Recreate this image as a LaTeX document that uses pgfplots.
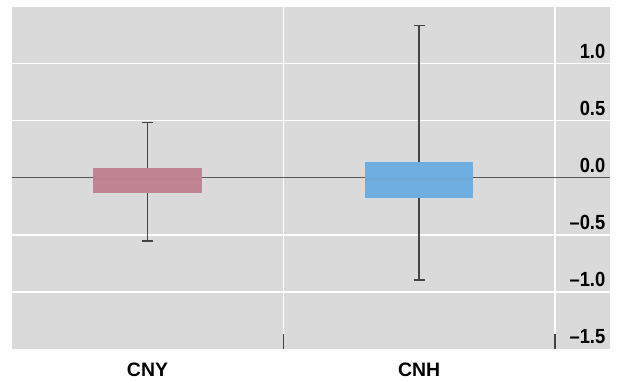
\documentclass[border=0pt]{standalone}
\usepackage{fontspec}
\setmainfont{Liberation Sans}
\usepackage{graphicx}
\usepackage{pgfplots}
\pgfplotsset{compat=1.18}
\usepgfplotslibrary{statistics}
\definecolor{bggray}{RGB}{218,218,218}
\definecolor{cnycol}{RGB}{193,129,144}
\definecolor{cnhcol}{RGB}{106,173,225}
\definecolor{dk}{RGB}{68,68,68}
\newcommand{\yl}[1]{\scalebox{0.97}[1.08]{#1}}
\begin{document}
\begin{tikzpicture}
\path[use as bounding box] (-11.7bp,-33.7bp) rectangle (605.3bp,349.3bp);
\begin{axis}[
  at={(0,0)}, anchor=south west,
  scale only axis, width=598.3bp, height=342.9bp,
  xmin=-0.5, xmax=1.703, ymin=-1.5, ymax=1.5,
  axis background/.style={fill=bggray},
  axis line style={draw=white, line width=1bp},
  ytick={-1.5,-1,-0.5,0,0.5,1,1.5},
  yticklabels={\yl{–1.5},\yl{–1.0},\yl{–0.5},\yl{0.0},\yl{0.5},\yl{1.0},},
  ymajorgrids, grid style={white, line width=1.3bp},
  yticklabel pos=right,
  ytick style={draw=none},
  yticklabel style={anchor=south east, inner sep=0pt, xshift=-4.5bp, yshift=5bp, font=\fontsize{19}{19}\selectfont\bfseries},
  xtick={0.5,1.5}, xticklabels={},
  xmajorgrids, tick align=inside, xtick pos=lower, major tick length=15bp,
  xtick style={draw=dk, line width=1.3bp},
  extra x ticks={0,1}, extra x tick labels={CNY,CNH},
  extra x tick style={xmajorgrids=false, major tick length=0pt,
    xticklabel style={anchor=north, inner sep=0pt, yshift=-13bp, font=\fontsize{19.5}{19.5}\selectfont\bfseries}},
  clip=false,
  boxplot/draw direction=y,
]
\addplot[dk!90, line width=1.3bp] coordinates {(-0.5,0) (1.703,0)};
\addplot[boxplot prepared={draw position=0, lower whisker=-0.553, lower quartile=-0.133, median=-0.013, upper quartile=0.089, upper whisker=0.482, box extend=0.4, whisker extend=0.04},
  boxplot/every box/.style={draw=none, fill=cnycol, fill opacity=0.96},
  boxplot/every median/.style={draw=cnycol!80!gray, line width=0.8bp},
  boxplot/every whisker/.style={draw=dk, line width=1.4bp},
  draw=dk, line width=1.4bp] coordinates {};
\addplot[boxplot prepared={draw position=1, lower whisker=-0.894, lower quartile=-0.179, median=-0.013, upper quartile=0.136, upper whisker=1.331, box extend=0.4, whisker extend=0.04},
  boxplot/every box/.style={draw=none, fill=cnhcol, fill opacity=0.96},
  boxplot/every median/.style={draw=cnhcol!80!gray, line width=0.8bp},
  boxplot/every whisker/.style={draw=dk, line width=1.4bp},
  draw=dk, line width=1.4bp] coordinates {};
\end{axis}
\end{tikzpicture}
\end{document}
